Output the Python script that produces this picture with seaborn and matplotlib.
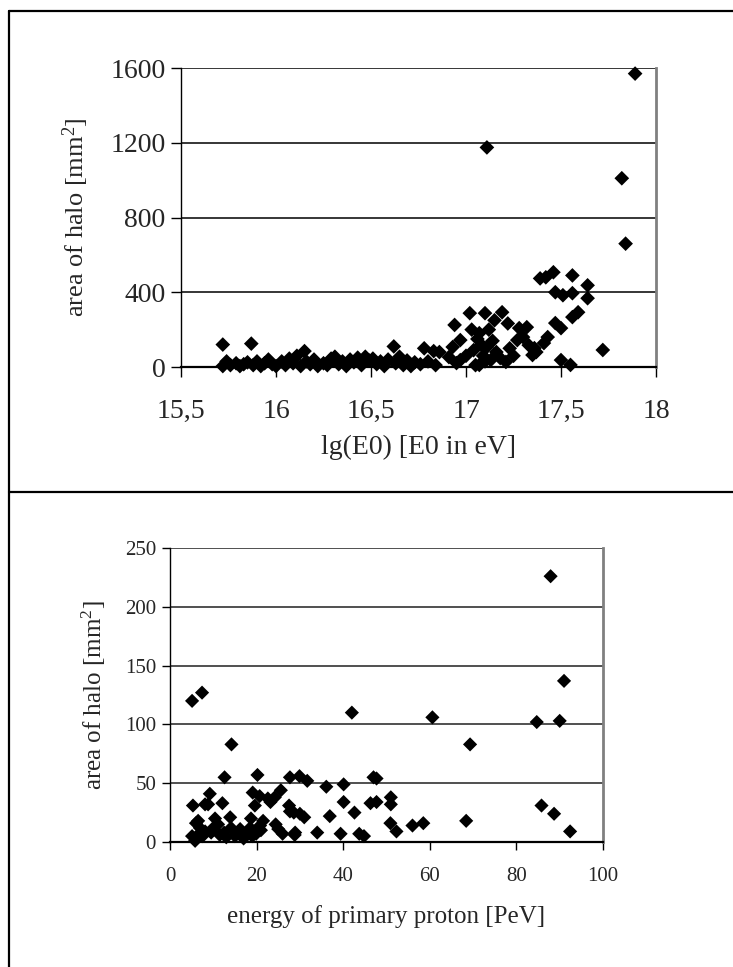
import matplotlib
matplotlib.use("Agg")
import matplotlib.pyplot as plt
import seaborn as sns
from matplotlib.lines import Line2D
from matplotlib.ticker import FixedLocator, FixedFormatter

# upper panel: lg(E0) vs halo area
top_x = [15.72, 15.72, 15.74, 15.76, 15.79, 15.81, 15.83, 15.85, 15.87, 15.88, 15.90, 15.92, 15.94, 15.96, 15.98,
         16.00, 16.03, 16.05, 16.07, 16.09, 16.11, 16.13, 16.15, 16.16, 16.18, 16.20, 16.22, 16.25, 16.27, 16.29,
         16.31, 16.33, 16.35, 16.37, 16.39, 16.41, 16.43, 16.45, 16.47, 16.49, 16.51, 16.53, 16.55, 16.57, 16.59,
         16.62, 16.63, 16.65, 16.67, 16.69, 16.71, 16.73, 16.76, 16.78, 16.80, 16.83, 16.84,
         16.86, 16.91, 16.93, 16.94, 16.95, 16.97, 16.97, 17.00, 17.02, 17.03, 17.04, 17.05, 17.06, 17.07,
         17.07, 17.08, 17.09, 17.10, 17.10, 17.11, 17.12, 17.13, 17.14, 17.15, 17.16, 17.18, 17.19, 17.21,
         17.22, 17.23, 17.25, 17.27, 17.28, 17.30, 17.32, 17.33, 17.35, 17.36, 17.37,
         17.39, 17.41, 17.42, 17.43, 17.46, 17.47, 17.47, 17.50, 17.50, 17.51, 17.55, 17.56, 17.56, 17.56,
         17.59, 17.64, 17.64, 17.72,
         17.11, 17.82, 17.84, 17.89]
top_y = [5, 120, 30, 10, 20, 5, 15, 25, 125, 10, 30, 5, 20, 40, 15,
         5, 30, 10, 45, 20, 60, 5, 85, 30, 15, 40, 5, 20, 10, 45,
         55, 15, 30, 5, 40, 25, 50, 10, 55, 35, 45, 15, 30, 5, 40,
         110, 20, 55, 10, 35, 5, 25, 15, 100, 30, 85, 10,
         80, 53, 107, 225, 21, 144, 37, 60, 288, 200, 90, 10, 150, 181,
         11, 120, 60, 288, 30, 107, 200, 37, 140, 250, 80, 48, 293, 27,
         233, 100, 60, 144, 208, 160, 213, 117, 64, 101, 80,
         474, 128, 480, 160, 507, 400, 235, 208, 37, 384, 11, 490, 395, 267,
         293, 437, 368, 91,
         1175, 1010, 660, 1570]
top_xticks = [15.5, 16, 16.5, 17, 17.5, 18]
top_xlabels = ["15,5", "16", "16,5", "17", "17,5", "18"]
top_yticks = [0, 400, 800, 1200, 1600]

# lower panel: proton energy vs halo area
bot_x = [5.1, 7.4, 14.2, 12.6, 20.2, 5.3, 9.2, 8.8, 12.1, 13.9, 19.1, 19.6, 20.7, 23.2, 25.6,
         24.4, 27.5, 27.7, 29.9, 31.7, 28.6, 31.0, 28.8, 34.0, 36.1, 36.9, 40.1, 40.1, 39.4, 42.0,
         42.6, 43.7, 44.8, 47.0, 47.7, 46.3, 47.7, 51.0, 51.0, 50.9, 52.3, 56.0, 58.5, 60.6, 69.3,
         68.4, 84.7, 85.8, 87.9, 88.7, 90.0, 91.0, 92.4, 5.1,
         6.0, 6.9, 5.8, 8.1, 9.5, 11.1, 10.4, 14.1, 15.0, 16.2, 17.3, 18.5, 18.7, 19.9, 20.8,
         21.5, 22.6, 24.2, 26.0, 28.9, 27.7, 30.0, 8.1, 7.5, 10.0, 12.5, 13.0, 17.0, 19.0, 21.0,
         7.0, 11.5, 6.5, 15.8, 25.0]
bot_y = [120, 127, 83, 55, 57, 31, 41, 32, 33, 21, 42, 31, 39, 34, 44,
         15, 31, 55, 56, 52, 25, 21, 6, 8, 47, 22, 49, 34, 7, 110,
         25, 7, 5, 55, 54, 33, 34, 38, 32, 16, 9, 14, 16, 106, 83,
         18, 102, 31, 226, 24, 103, 137, 9, 5,
         16, 12, 1, 9, 8, 15, 20, 12, 5, 11, 7, 12, 20, 7, 14,
         18, 37, 38, 7, 8, 26, 24, 32, 5, 12, 8, 4, 3, 5, 10,
         8, 6, 18, 9, 11]
bot_xticks = [0, 20, 40, 60, 80, 100]
bot_yticks = [0, 50, 100, 150, 200, 250]

sns.set_style("white")
plt.rcParams["font.family"] = ["Liberation Serif", "DejaVu Serif"]
plt.rcParams["mathtext.fontset"] = "custom"
plt.rcParams["mathtext.rm"] = "Liberation Serif"
plt.rcParams["mathtext.it"] = "Liberation Serif:italic"

fig = plt.figure(figsize=(7.33, 9.67), dpi=100)
W, H = 733, 967


def frac_box(left, top, right, bottom):
    return [left / W, 1 - bottom / H, (right - left) / W, (bottom - top) / H]


def style_axes(ax, grid_ticks, gridcolor):
    for v in grid_ticks[1:]:
        ax.axhline(v, color=gridcolor, lw=1.1, zorder=0)
    ax.spines["top"].set_visible(False)
    ax.spines["right"].set_color("#808080")
    ax.spines["right"].set_linewidth(2)
    ax.spines["left"].set_color("black")
    ax.spines["bottom"].set_color("black")
    ax.spines["left"].set_linewidth(1)
    ax.spines["bottom"].set_linewidth(1.6)


# frame lines around the panels
fig.add_artist(Line2D([9 / W, 9 / W], [0, 1 - 11 / H], color="black", lw=1.6))
fig.add_artist(Line2D([9 / W, 1], [1 - 11 / H, 1 - 11 / H], color="black", lw=1.6))
fig.add_artist(Line2D([9 / W, 1], [1 - 492 / H, 1 - 492 / H], color="black", lw=1.6))

# upper chart
ax1 = fig.add_axes(frac_box(181, 68, 656, 367))
sns.scatterplot(x=top_x, y=top_y, ax=ax1, marker="D", color="black", s=56,
                edgecolor="none", zorder=3, clip_on=False)
ax1.set_xlim(15.5, 18)
ax1.set_ylim(0, 1600)
style_axes(ax1, top_yticks, "black")
ax1.xaxis.set_major_locator(FixedLocator(top_xticks))
ax1.xaxis.set_major_formatter(FixedFormatter(top_xlabels))
ax1.set_yticks(top_yticks)
ax1.tick_params(axis="both", direction="out", length=7, width=1, color="black",
                labelsize=20, bottom=True, left=True)
ax1.tick_params(axis="x", pad=16)
ax1.tick_params(axis="y", pad=4)
ax1.set_xlabel("lg(E0) [E0 in eV]", fontsize=20, labelpad=8)
ax1.set_ylabel("area of halo [mm$^2$]", fontsize=19, labelpad=14)

# lower chart
ax2 = fig.add_axes(frac_box(170, 548, 603, 842))
sns.scatterplot(x=bot_x, y=bot_y, ax=ax2, marker="D", color="black", s=52,
                edgecolor="none", zorder=3, clip_on=False)
ax2.set_xlim(0, 100)
ax2.set_ylim(0, 250)
style_axes(ax2, bot_yticks, "#202020")
ax2.set_xticks(bot_xticks)
ax2.set_yticks(bot_yticks)
ax2.tick_params(axis="both", direction="out", length=6, width=1, color="black",
                labelsize=15, bottom=True, left=True)
ax2.tick_params(axis="x", pad=12)
ax2.tick_params(axis="y", pad=4)
ax2.set_xlabel("energy of primary proton [PeV]", fontsize=18, labelpad=14)
ax2.set_ylabel("area of halo [mm$^2$]", fontsize=18, labelpad=12)

fig.savefig("out.png", dpi=100, facecolor="white")
